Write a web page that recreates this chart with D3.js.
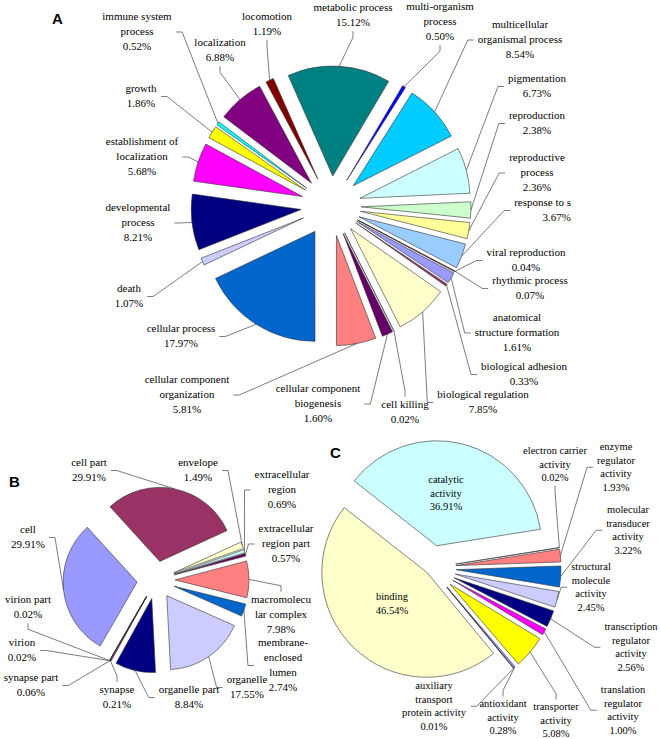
<!DOCTYPE html>
<html><head><meta charset="utf-8">
<script src="https://cdn.jsdelivr.net/npm/d3@7"></script>
<style>
body{margin:0;background:#fff}
svg{display:block}
</style>
</head><body>
<svg id="chart" width="661" height="739"></svg>
<script>
// Excel default series palette
const palette = ["#9999FF","#993366","#FFFFCC","#CCFFFF","#660066","#FF8080","#0066CC","#CCCCFF","#000080","#FF00FF","#FFFF00","#00FFFF","#800080","#800000","#008080","#0000FF","#00CCFF","#CCFFFF","#CCFFCC","#FFFF99","#99CCFF","#FF99CC","#CC99FF"];

// ---- A: biological process ----
const bpCategories = ["anatomical structure formation","biological adhesion","biological regulation","cell killing","cellular component biogenesis","cellular component organization","cellular process","death","developmental process","establishment of localization","growth","immune system process","localization","locomotion","metabolic process","multi-organism process","multicellular organismal process","pigmentation","reproduction","reproductive process","response to s","rhythmic process","viral reproduction"];
const bpValues = [1.61,0.33,7.85,0.02,1.60,5.81,17.97,1.07,8.21,5.68,1.86,0.52,6.88,1.19,15.12,0.50,8.54,6.73,2.38,2.36,3.67,0.07,0.04];
const bpLabelLines = [["anatomical","structure formation"],["biological adhesion"],["biological regulation"],["cell killing"],["cellular component","biogenesis"],["cellular component","organization"],["cellular process"],["death"],["developmental","process"],["establishment of","localization"],["growth"],["immune system","process"],["localization"],["locomotion"],["metabolic process"],["multi-organism","process"],["multicellular","organismal process"],["pigmentation"],["reproduction"],["reproductive","process"],["response to s"],["rhythmic process"],["viral reproduction"]];

// ---- B: cellular component ----
const ccCategories = ["cell","cell part","envelope","extracellular region","extracellular region part","macromolecular complex","membrane-enclosed lumen","organelle","organelle part","synapse","synapse part","virion","virion part"];
const ccValues = [29.91,29.91,1.49,0.69,0.57,7.98,2.74,17.55,8.84,0.21,0.06,0.02,0.02];
const ccLabelLines = [["cell"],["cell part"],["envelope"],["extracellular","region"],["extracellular","region part"],["macromolecu","lar complex"],["membrane-","enclosed","lumen"],["organelle"],["organelle part"],["synapse"],["synapse part"],["virion"],["virion part"]];

// ---- C: molecular function ----
const mfCategories = ["antioxidant activity","auxiliary transport protein activity","binding","catalytic activity","electron carrier activity","enzyme regulator activity","molecular transducer activity","structural molecule activity","transcription regulator activity","translation regulator activity","transporter activity"];
const mfValues = [0.28,0.01,46.54,36.91,0.02,1.93,3.22,2.45,2.56,1.00,5.08];
const mfLabelLines = [["antioxidant","activity"],["auxiliary","transport","protein activity"],["binding"],["catalytic","activity"],["electron carrier","activity"],["enzyme","regulator","activity"],["molecular","transducer","activity"],["structural","molecule","activity"],["transcription","regulator","activity"],["translation","regulator","activity"],["transporter","activity"]];

// ---- label layout (x centre, first line centre y, leader side, alignment) ----
const bpLabelPos = [[517,318,"l"],[524,367,"l"],[483,395,"l"],[405,405,"t"],[318,389,"r"],[187,380,"r"],[181,329,"r"],[129,289,"r"],[138,208,"r"],[142,142,"r"],[141,89,"r"],[137,17,"r"],[220,43,"b"],[267,17,"b"],[353,8,"b"],[440,7,"b"],[520,25,"l"],[537,79,"l"],[537,116,"l"],[537,158,"l"],[571,203,"l","end"],[530,281,"l"],[526,253,"l"]];
const ccLabelPos = [[28,530,"r"],[89,463,"r"],[198,463,"r"],[282,475,"l"],[286,529,"l"],[281,600,"t"],[283,643,"l"],[247,680,"l"],[189,690,"l"],[117,690,"t"],[31,678,"r"],[22,643,"r"],[28,600,"b"]];
const mfLabelPos = [[503,704,"t"],[434,686,"r"],[392,597,"none"],[446,480,"none"],[555,451,"b"],[616,447,"l"],[628,510,"l"],[591,567,"l"],[631,627,"l"],[623,690,"l"],[556,707,"t"]];

const SERIF = '"Liberation Serif", "Times New Roman", serif';
const SANS = '"Liberation Sans", Arial, sans-serif';
const svg = d3.select("#chart");

function drawPie(cfg) {
  const rad = Math.PI / 180;
  const pie = d3.pie().sort(null).value(d => d)
    .startAngle(cfg.start * rad).endAngle(cfg.start * rad + 2 * Math.PI);
  const arcs = pie(cfg.values);
  const arc = d3.arc().innerRadius(0).outerRadius(cfg.r);
  const g = svg.append("g").attr("transform", `translate(${cfg.cx},${cfg.cy})`);
  const lg = svg.append("g");
  const anchors = [];
  arcs.forEach((a, i) => {
    const mid = (a.startAngle + a.endAngle) / 2;
    const e = cfg.explode(cfg.categories[i]);
    const dx = e * Math.sin(mid), dy = -e * Math.cos(mid);
    g.append("path").attr("d", arc(a))
      .attr("transform", `translate(${dx},${dy})`)
      .attr("fill", palette[i]).attr("stroke", "#333").attr("stroke-width", 0.6)
      .attr("stroke-linejoin", "round");
    anchors.push([cfg.cx + (e + cfg.r) * Math.sin(mid), cfg.cy - (e + cfg.r) * Math.cos(mid)]);
  });
  cfg.values.forEach((v, i) => {
    const p = cfg.pos[i];
    const lines = cfg.lines[i].concat([v.toFixed(2) + "%"]);
    const t = lg.append("text")
      .style("font-family", SERIF).style("font-size", cfg.fs + "px")
      .attr("fill", "#000")
      .attr("text-anchor", p[3] || "middle");
    lines.forEach((s, k) => {
      t.append("tspan").attr("x", p[0]).attr("y", p[1] + k * cfg.lh + 3.4).text(s);
    });
    if (p[2] === "none") return;
    const bb = t.node().getBBox();
    const midY = p[1] + (lines.length - 1) * cfg.lh / 2;
    const pad = 4, tick = 6;
    let a1, a2;
    if (p[2] === "r") { a1 = [bb.x + bb.width + pad, midY]; a2 = [a1[0] + tick, midY]; }
    else if (p[2] === "l") { a1 = [bb.x - pad, midY]; a2 = [a1[0] - tick, midY]; }
    else if (p[2] === "t") { a1 = [p[0], p[1] - cfg.lh * 0.55]; a2 = [p[0], a1[1] - tick]; }
    else { a1 = [p[0], p[1] + (lines.length - 1) * cfg.lh + cfg.lh * 0.55]; a2 = [p[0], a1[1] + tick]; }
    lg.append("path").attr("d", d3.line()([a1, a2, anchors[i]]))
      .attr("fill", "none").attr("stroke", "#444").attr("stroke-width", 0.7);
  });
}

drawPie({categories: bpCategories, values: bpValues, lines: bpLabelLines, pos: bpLabelPos,
  cx: 331, cy: 206, r: 110, start: 118, explode: () => 30, fs: 11, lh: 15});
drawPie({categories: ccCategories, values: ccValues, lines: ccLabelLines, pos: ccLabelPos,
  cx: 156, cy: 580, r: 74, start: 210, explode: () => 19, fs: 11, lh: 15});
const mfExplode = {"binding": 6, "catalytic activity": 23};
drawPie({categories: mfCategories, values: mfValues, lines: mfLabelLines, pos: mfLabelPos,
  cx: 431, cy: 568, r: 105, start: 139.5, explode: c => mfExplode[c] !== undefined ? mfExplode[c] : 25, fs: 10.5, lh: 13.5});

[["A", 52, 24], ["B", 9, 487], ["C", 330, 458]].forEach(([s, x, y]) => {
  svg.append("text").attr("x", x).attr("y", y).style("font-family", SANS)
    .style("font-weight", "bold").style("font-size", "15px").attr("fill", "#000").text(s);
});
</script>
</body></html>
